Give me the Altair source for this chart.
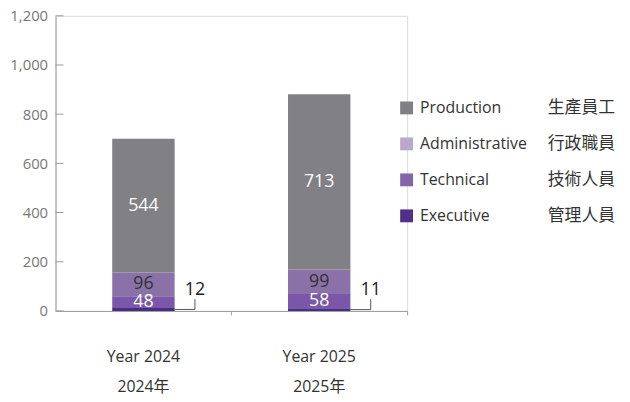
import altair as alt
import pandas as pd

years = ["2024", "2025"]
categories = ["Production", "Administrative", "Technical", "Executive"]
categories_zh = ["生產員工", "行政職員", "技術人員", "管理人員"]
production = [544, 713]
administrative = [96, 99]
technical = [48, 58]
executive = [12, 11]
y_ticks = [0, 200, 400, 600, 800, 1000, 1200]

bar_colors = ["#808085", "#8a71a8", "#7a57a8", "#4b2c86"]
swatch_colors = ["#7f7f84", "#b8a8cc", "#8466a6", "#4f2f8a"]
FONT = "Open Sans, Noto Sans CJK TC, sans-serif"

series = {
    "Production": production,
    "Administrative": administrative,
    "Technical": technical,
    "Executive": executive,
}
rows = []
for i, yr in enumerate(years):
    base = 0
    for cat in ["Executive", "Technical", "Administrative", "Production"]:
        v = series[cat][i]
        rows.append(dict(year=yr, cat=cat, value=v, y0=base, y1=base + v, mid=base + v / 2))
        base += v
df = pd.DataFrame(rows)
df_inner = df[df.cat != "Executive"]
df_exec = df[df.cat == "Executive"].copy()
df_exec["lead_top"] = 48
df_exec["label_y"] = 85

ticks_df = pd.DataFrame({"v": y_ticks})
legend_df = pd.DataFrame({"key": categories, "zh": categories_zh})

W, H = 355, 298
yscale = alt.Scale(domain=[0, 1200], nice=False)
xenc = alt.X(
    "year:N",
    scale=alt.Scale(domain=years, paddingInner=0, paddingOuter=0),
    title=None,
    axis=alt.Axis(
        bandPosition=1,
        tickSize=4,
        tickColor="#9a9a9a",
        domainColor="#9a9a9a",
        labelAngle=0,
        labelExpr="['Year ' + datum.label, datum.label + '年']",
        labelFontSize=16,
        labelColor="#333333",
        labelLineHeight=30,
        labelPadding=34,
        labelFont=FONT,
    ),
)

bars = alt.Chart(df).mark_bar(width=63).encode(
    x=xenc,
    y=alt.Y(
        "y0:Q",
        scale=yscale,
        title=None,
        axis=alt.Axis(
            values=y_ticks,
            format=",.0f",
            ticks=False,
            grid=False,
            labelPadding=8,
            labelColor="#777777",
            labelFontSize=15,
            labelFont=FONT,
            domainColor="#9a9a9a",
        ),
    ),
    y2="y1:Q",
    color=alt.Color("cat:N", scale=alt.Scale(domain=categories, range=bar_colors), legend=None),
)

inner_text = alt.Chart(df_inner).mark_text(fontSize=18, font=FONT, baseline="middle").encode(
    x="year:N",
    y=alt.Y("mid:Q", scale=yscale),
    text="value:Q",
    color=alt.condition(alt.datum.cat == "Administrative", alt.value("#333333"), alt.value("white")),
)

lead_h = alt.Chart(df_exec).mark_rule(xOffset=31.5, x2Offset=52, color="#555555", strokeWidth=1).encode(
    x="year:N", x2="year:N", y=alt.Y("mid:Q", scale=yscale)
)
lead_v = alt.Chart(df_exec).mark_rule(xOffset=52, color="#555555", strokeWidth=1).encode(
    x="year:N", y=alt.Y("mid:Q", scale=yscale), y2="lead_top:Q"
)
exec_text = alt.Chart(df_exec).mark_text(dx=52, fontSize=18, font=FONT, color="#222222", baseline="middle").encode(
    x="year:N", y=alt.Y("label_y:Q", scale=yscale), text="value:Q"
)

yticks = alt.Chart(ticks_df).mark_rule(color="#9a9a9a").encode(
    y=alt.Y("v:Q", scale=yscale), x=alt.value(0), x2=alt.value(8)
)

main = alt.layer(bars, inner_text, lead_h, lead_v, exec_text, yticks)

ly = alt.Y("key:N", scale=alt.Scale(type="point", domain=categories, range=[93, 202], padding=0), axis=None)
leg_sq = alt.Chart(legend_df).mark_square(size=169, opacity=1).encode(
    x=alt.value(354.5),
    y=ly,
    color=alt.Color("key:N", scale=alt.Scale(domain=categories, range=swatch_colors), legend=None),
)
leg_en = alt.Chart(legend_df).mark_text(align="left", baseline="middle", fontSize=16, font=FONT, color="#333333").encode(
    x=alt.value(368), y=ly, text="key:N"
)
leg_zh = alt.Chart(legend_df).mark_text(align="left", baseline="middle", fontSize=17, font=FONT, color="#333333").encode(
    x=alt.value(497), y=ly, text="zh:N"
)
legend = alt.layer(leg_sq, leg_en, leg_zh)

chart = (
    alt.layer(main, legend)
    .resolve_scale(y="independent", color="independent")
    .properties(
        width=W,
        height=H,
        autosize=alt.AutoSizeParams(type="none"),
        padding={"left": 48, "top": 6, "right": 217, "bottom": 84},
    )
    .configure_view(strokeWidth=0, stroke="transparent")
    .configure(font=FONT)
)

chart.save("out.html", embed_options={"renderer": "svg", "actions": False})
